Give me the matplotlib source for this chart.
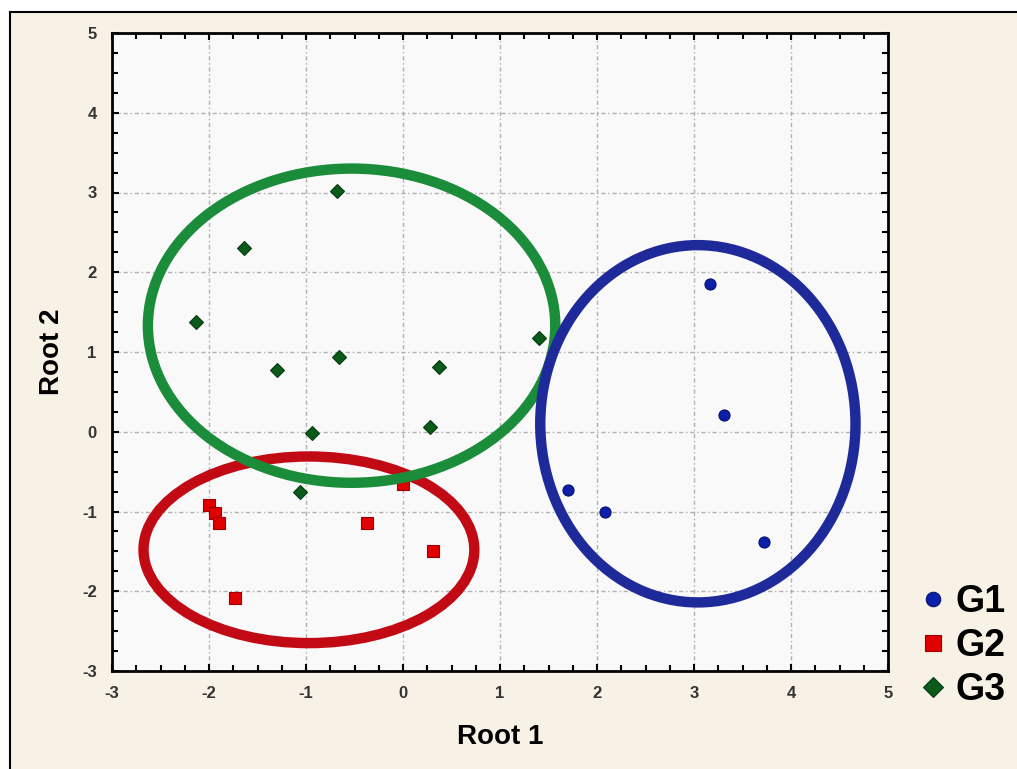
import numpy as np
import matplotlib
matplotlib.use("Agg")
import matplotlib.pyplot as plt
from matplotlib.patches import Ellipse, Rectangle
from matplotlib.lines import Line2D
from matplotlib.ticker import MultipleLocator

plt.rcParams['font.family'] = ['Liberation Sans', 'DejaVu Sans']
plt.rcParams['axes.unicode_minus'] = False

## Discriminant scores
g1_x = [3.16, 3.31, 1.70, 2.08, 3.72]
g1_y = [1.85, 0.21, -0.73, -1.01, -1.38]

g2_x = [-2.00, -1.94, -1.90, -0.37, 0.31, -1.73, 0.00]
g2_y = [-0.92, -1.02, -1.15, -1.15, -1.49, -2.08, -0.65]

g3_x = [-0.68, -1.64, -2.13, -1.30, -0.66, 0.37, 1.40, -0.94, 0.28, -1.06]
g3_y = [3.02, 2.31, 1.37, 0.77, 0.94, 0.81, 1.17, -0.01, 0.06, -0.76]

## Group ellipses (centre x, centre y, width, height)
ell_cx = [3.04, -0.97, -0.53]
ell_cy = [0.10, -1.48, 1.33]
ell_w = [3.25, 3.41, 4.20]
ell_h = [4.48, 2.34, 3.94]

group_names = ['G1', 'G2', 'G3']
ell_colors = ['#1f2a9a', '#c20a14', '#1a8c3a']
mk_colors = ['#0b1faa', '#e00000', '#0a5a1a']
mk_edges = ['#06126a', '#9a0000', '#053a10']
mk_shapes = ['o', 's', 'D']
mk_sizes = [8, 9, 7.5]

fig = plt.figure(figsize=(10.17, 7.69), dpi=100)
fig.patch.set_facecolor('white')

# cream panel with black frame on left and top
fig.add_artist(Rectangle((10/1017, 0), 1 - 10/1017, 1 - 12/769, transform=fig.transFigure,
                         facecolor='#f8f1e5', edgecolor='none', zorder=-2))
fig.add_artist(Line2D([10/1017, 10/1017], [0, 1 - 12/769], transform=fig.transFigure,
                      color='black', lw=1.5, zorder=-1))
fig.add_artist(Line2D([10/1017, 1], [1 - 12/769, 1 - 12/769], transform=fig.transFigure,
                      color='black', lw=1.5, zorder=-1))

ax = fig.add_axes([112/1017, 1 - 671/769, (888 - 112)/1017, (671 - 33)/769])
ax.set_facecolor('#f9f9f9')

xs = [g1_x, g2_x, g3_x]
ys = [g1_y, g2_y, g3_y]
handles = []
for k in range(3):
    h, = ax.plot(xs[k], ys[k], linestyle='none', marker=mk_shapes[k], ms=mk_sizes[k],
                 color=mk_colors[k], markeredgecolor=mk_edges[k], markeredgewidth=0.8, zorder=3)
    handles.append(h)

for k in [1, 2, 0]:
    e = Ellipse((ell_cx[k], ell_cy[k]), ell_w[k], ell_h[k], fill=False,
                edgecolor=ell_colors[k], lw=7.5, zorder=4)
    ax.add_patch(e)

ax.set_xlim(-3, 5)
ax.set_ylim(-3, 5)
ax.xaxis.set_major_locator(MultipleLocator(1))
ax.yaxis.set_major_locator(MultipleLocator(1))
ax.xaxis.set_minor_locator(MultipleLocator(0.25))
ax.yaxis.set_minor_locator(MultipleLocator(0.25))
ax.tick_params(which='both', direction='in', top=True, right=True, color='black')
ax.tick_params(which='major', length=5, width=1.5)
ax.tick_params(which='minor', length=4, width=1.5)
ax.tick_params(axis='both', labelsize=12, labelcolor='#333333', pad=11)
for lab in ax.get_xticklabels() + ax.get_yticklabels():
    lab.set_fontweight('bold')
for sp in ax.spines.values():
    sp.set_linewidth(2)

ax.grid(True, which='major', color='#b0b0b0', linestyle=(0, (3, 2, 1, 2)), linewidth=1, zorder=1)
ax.set_axisbelow(True)

ax.set_xlabel('Root 1', fontsize=20, fontweight='bold', labelpad=16)
ax.set_ylabel('Root 2', fontsize=20, fontweight='bold', labelpad=12)

leg = fig.legend(handles, group_names, loc='upper left', bbox_to_anchor=(922/1017, 1 - 584/769),
                 frameon=False, prop={'size': 27, 'weight': 'bold'}, handlelength=0.6,
                 handletextpad=0.3, labelspacing=0.22, borderaxespad=0, borderpad=0,
                 markerscale=1.3)

fig.savefig('out.png', dpi=100)
